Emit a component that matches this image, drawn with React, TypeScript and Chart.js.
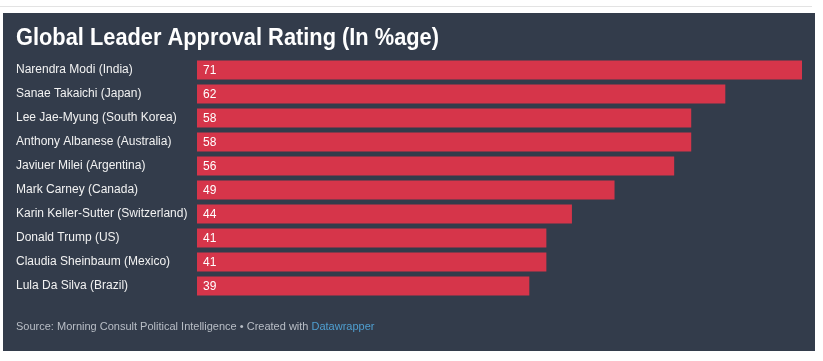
import React, { useEffect, useRef } from "react";
import { Chart, registerables } from "chart.js";

Chart.register(...registerables);

const leaders = [
  "Narendra Modi (India)",
  "Sanae Takaichi (Japan)",
  "Lee Jae-Myung (South Korea)",
  "Anthony Albanese (Australia)",
  "Javiuer Milei (Argentina)",
  "Mark Carney (Canada)",
  "Karin Keller-Sutter (Switzerland)",
  "Donald Trump (US)",
  "Claudia Sheinbaum (Mexico)",
  "Lula Da Silva (Brazil)",
];
const approval = [71, 62, 58, 58, 56, 49, 44, 41, 41, 39];
const titleText = "Global Leader Approval Rating (In %age)";
const sourceText = "Source: Morning Consult Political Intelligence • Created with ";
const creditText = "Datawrapper";

const BG = "#333c4b";
const RED = "#d6354a";
const FONT = "'Liberation Sans', Arial, sans-serif";

export default function App() {
  const ref = useRef<HTMLCanvasElement>(null);
  useEffect(() => {
    const canvas = ref.current!;
    const decor = {
      id: "decor",
      afterDatasetsDraw(chart: any) {
        const { ctx, chartArea, scales } = chart;
        ctx.save();
        // title (condensed horizontally to match the reference width)
        ctx.fillStyle = "#ffffff";
        ctx.font = `bold 23px ${FONT}`;
        ctx.textBaseline = "alphabetic";
        ctx.textAlign = "left";
        const tw = ctx.measureText(titleText).width;
        const sx = 423 / tw;
        ctx.save();
        ctx.translate(13, 32);
        ctx.scale(sx, 1);
        ctx.fillText(titleText, 0, 0);
        ctx.restore();
        // value labels
        ctx.font = `12px ${FONT}`;
        ctx.textBaseline = "middle";
        approval.forEach((v, i) => {
          const y = scales.y.getPixelForValue(i);
          ctx.fillText(String(v), chartArea.left + 6, y + 0.5);
        });
        // footer
        ctx.font = `11px ${FONT}`;
        ctx.fillStyle = "#b9bec6";
        ctx.fillText(sourceText, 13, 314);
        const w = ctx.measureText(sourceText).width;
        ctx.fillStyle = "#4f9fd0";
        ctx.fillText(creditText, 13 + w, 314);
        ctx.restore();
      },
    };
    const chart = new Chart(canvas, {
      type: "bar",
      data: {
        labels: leaders,
        datasets: [
          {
            data: approval,
            backgroundColor: RED,
            borderWidth: 0,
            categoryPercentage: 1,
            barPercentage: 0.8,
          },
        ],
      },
      options: {
        indexAxis: "y",
        animation: false,
        responsive: false,
        maintainAspectRatio: false,
        layout: { padding: { left: 13, right: 13, top: 45, bottom: 53 } },
        plugins: {
          legend: { display: false },
          tooltip: { enabled: false },
          title: { display: false },
        },
        scales: {
          x: {
            display: false,
            min: 0,
            max: 71,
            grid: { display: false },
          },
          y: {
            grid: { display: false },
            border: { display: false },
            afterFit(scale: any) {
              scale.width = 181;
            },
            ticks: {
              crossAlign: "far",
              color: "#f2f2f2",
              font: { family: FONT, size: 12 },
              padding: 8,
            },
          },
        },
      },
      plugins: [decor],
    });
    return () => chart.destroy();
  }, []);
  return (
    <div style={{ position: "fixed", left: 0, top: 0, width: 823, height: 361, background: "#fff" }}>
      <div style={{ position: "absolute", left: 0, top: 6, width: 812, height: 1, background: "#e3e3e3" }} />
      <div style={{ position: "absolute", left: 3, top: 13, width: 812, height: 338, background: BG }}>
        <canvas ref={ref} width={812} height={338} style={{ display: "block", width: 812, height: 338 }} />
      </div>
    </div>
  );
}
